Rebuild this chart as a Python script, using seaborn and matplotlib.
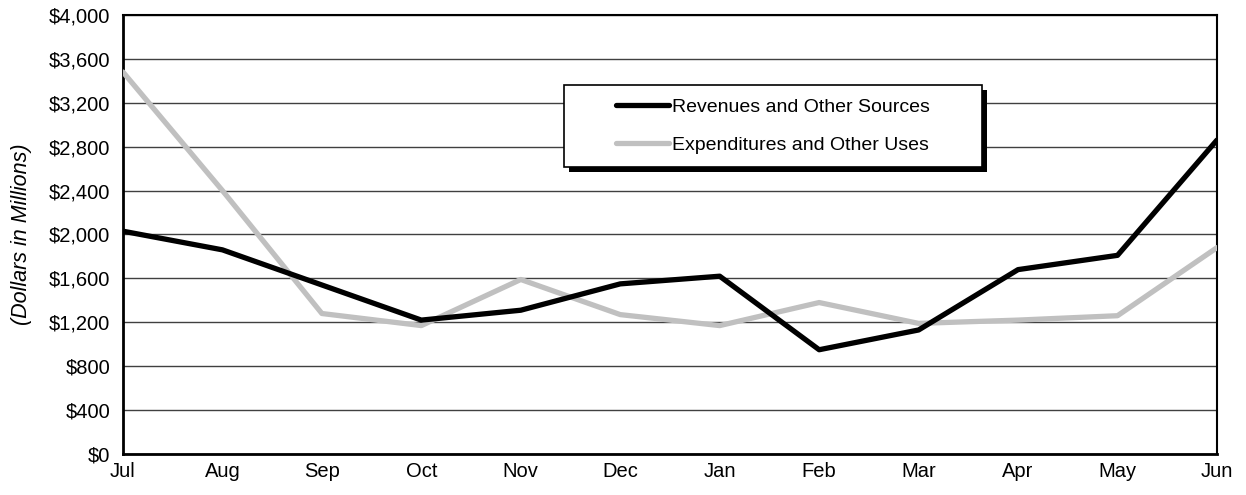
import pandas as pd
import matplotlib
matplotlib.use("Agg")
import matplotlib.pyplot as plt
import matplotlib.patches as mpatches
from matplotlib.ticker import FuncFormatter, MultipleLocator
import seaborn as sns

# -----------------------------
# 1. Data ($ millions)
# -----------------------------
months = ["Jul", "Aug", "Sep", "Oct", "Nov", "Dec",
          "Jan", "Feb", "Mar", "Apr", "May", "Jun"]
revenues = [2030, 1860, 1540, 1220, 1310, 1550, 1620, 950, 1130, 1680, 1810, 2860]
expenditures = [3480, 2400, 1280, 1170, 1590, 1270, 1170, 1380, 1190, 1220, 1260, 1880]
series_names = ["Revenues and Other Sources", "Expenditures and Other Uses"]

df = pd.DataFrame({
    "Month": months * 2,
    "Amount": revenues + expenditures,
    "Series": [series_names[0]] * len(months) + [series_names[1]] * len(months),
})

# -----------------------------
# 2. Plot
# -----------------------------
sns.set_style("white")
plt.rcParams["font.family"] = ["Liberation Sans", "DejaVu Sans"]
plt.rcParams["text.color"] = "black"
plt.rcParams["axes.labelcolor"] = "black"

fig = plt.figure(figsize=(12.46, 4.95), dpi=100)
ax = fig.add_axes([0.0987, 0.0828, 0.878, 0.887])

ax.yaxis.grid(True, color="#404040", linewidth=1.0)
ax.set_axisbelow(True)

sns.lineplot(data=df, x="Month", y="Amount", hue="Series", sort=False,
             palette=["black", "#C0C0C0"], linewidth=3.8, ax=ax, legend=False)
# keep revenues on top
ax.lines[0].set_zorder(4)
ax.lines[1].set_zorder(3)

ax.set_xlim(0, len(months) - 1)
ax.set_ylim(0, 4000)
ax.yaxis.set_major_locator(MultipleLocator(400))
ax.yaxis.set_major_formatter(FuncFormatter(lambda v, p: f"${v:,.0f}"))
ax.tick_params(axis="both", labelsize=14.5, colors="black", length=6, width=1.2)
ax.tick_params(axis="x", direction="inout", length=10, pad=1)
ax.tick_params(axis="y", direction="out", pad=3)

ax.set_xlabel("")
ax.set_ylabel("(Dollars in Millions)", fontsize=15.5, style="italic",
              labelpad=12, color="black")

for side in ["left", "bottom", "top", "right"]:
    ax.spines[side].set_visible(True)
    ax.spines[side].set_color("black")
ax.spines["left"].set_linewidth(2.0)
ax.spines["bottom"].set_linewidth(2.0)
ax.spines["top"].set_linewidth(1.5)
ax.spines["right"].set_linewidth(1.5)

# legend box with drop shadow
box_x, box_y, box_w, box_h = 0.403, 0.654, 0.382, 0.187
shadow = mpatches.Rectangle((box_x + 0.005, box_y - 0.012), box_w, box_h,
                            transform=ax.transAxes, facecolor="black",
                            edgecolor="none", zorder=5)
box = mpatches.Rectangle((box_x, box_y), box_w, box_h, transform=ax.transAxes,
                         facecolor="white", edgecolor="black", linewidth=1.2,
                         zorder=6)
ax.add_patch(shadow)
ax.add_patch(box)

handles = [plt.Line2D([], [], color="black", linewidth=3.8),
           plt.Line2D([], [], color="#C0C0C0", linewidth=3.8)]
leg = ax.legend(handles, series_names, loc="center",
                bbox_to_anchor=(box_x + box_w / 2, box_y + box_h / 2),
                bbox_transform=ax.transAxes,
                frameon=False, fontsize=14, handlelength=2.7,
                handletextpad=0.15, labelspacing=1.05, labelcolor="black")
leg.set_zorder(7)

plt.savefig("out.png", dpi=100)
